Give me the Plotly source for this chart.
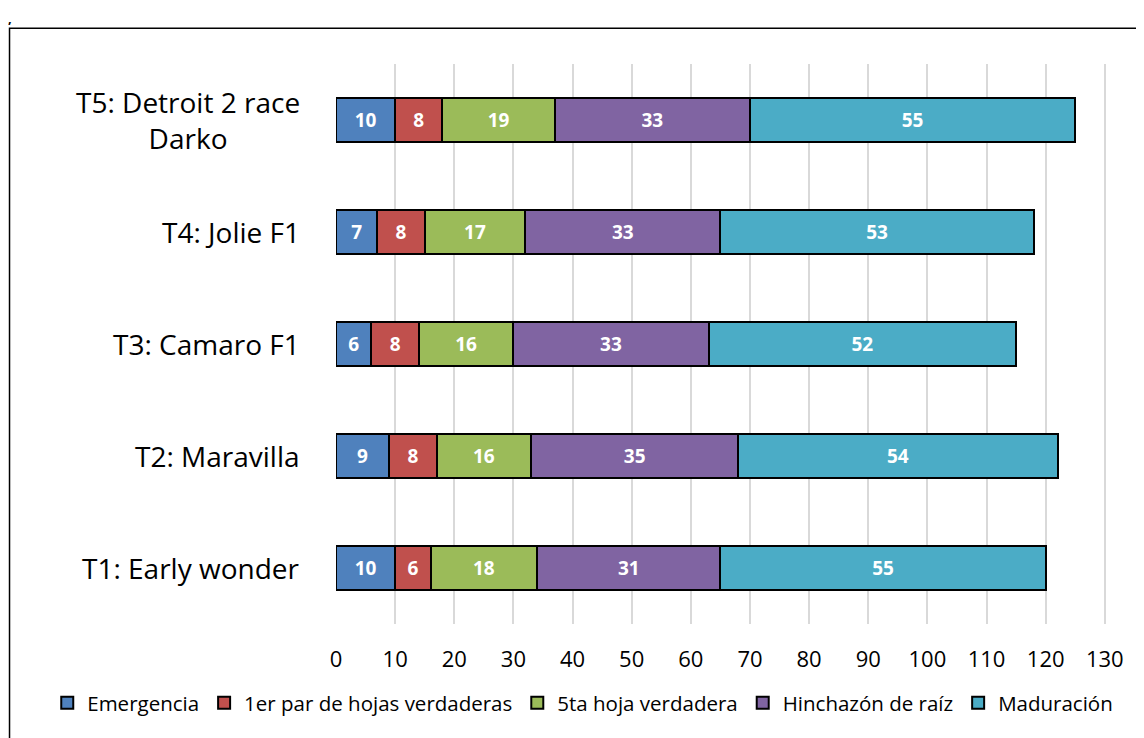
import plotly.graph_objects as go

categories = ["T1: Early wonder", "T2: Maravilla", "T3: Camaro F1", "T4: Jolie F1", "T5: Detroit 2 race<br>Darko"]
series_names = ["Emergencia", "1er par de hojas verdaderas", "5ta hoja verdadera", "Hinchazón de raíz", "Maduración"]
emergencia = [10, 9, 6, 7, 10]
primer_par = [6, 8, 8, 8, 8]
quinta_hoja = [18, 16, 16, 17, 19]
hinchazon = [31, 35, 33, 33, 33]
maduracion = [55, 54, 52, 53, 55]
colors = ["#4F81BD", "#C0504D", "#9BBB59", "#8064A2", "#4BACC6"]
x_ticks = list(range(0, 131, 10))

FONT = "Open Sans"
series = [emergencia, primer_par, quinta_hoja, hinchazon, maduracion]
fig = go.Figure()
for name, vals, col in zip(series_names, series, colors):
    fig.add_trace(go.Bar(
        y=categories, x=vals, name=name, orientation="h",
        marker=dict(color=col, line=dict(color="black", width=2)),
        text=vals, textposition="inside", insidetextanchor="middle",
        textfont=dict(color="white", size=19, family=FONT),
        texttemplate="<b>%{text}</b>", width=0.39,
    ))

L, T, PW, PH = 328, 56, 770, 560
fig.update_layout(
    barmode="stack",
    width=1144, height=738,
    margin=dict(l=L, r=1144 - L - PW, t=T, b=738 - T - PH, autoexpand=False),
    paper_bgcolor="white", plot_bgcolor="white",
    font=dict(family=FONT, color="black"),
    xaxis=dict(range=[0, 130.2], tickvals=x_ticks, showgrid=True, gridcolor="#D9D9D9",
               gridwidth=1.5, zeroline=False, tickfont=dict(size=22), ticks="",
               showline=False, ticklabelstandoff=20),
    yaxis=dict(categoryorder="array", categoryarray=categories, showticklabels=False,
               showgrid=False, zeroline=False, range=[-0.5, 4.5]),
    legend=dict(orientation="h", x=-0.375, xanchor="left", y=-0.105, yanchor="top",
                font=dict(size=20.5), traceorder="normal", itemwidth=30,
                tracegroupgap=0),
    uniformtext=dict(minsize=10, mode="show"),
    showlegend=True,
)

for c in categories:
    fig.add_annotation(x=-0.044, xref="paper", y=c, yref="y", text=c, showarrow=False,
                       xanchor="right", align="center", font=dict(size=28))

fig.add_shape(type="rect", xref="paper", yref="paper", x0=-0.424, x1=1.2, y0=-0.4, y1=1.064,
              line=dict(color="black", width=1.5), layer="below")
fig.add_annotation(x=-0.4275, xref="paper", y=1.0995, yref="paper", yanchor="top",
                   text="<b>,</b>", showarrow=False, font=dict(size=13), borderpad=0)

fig.write_html("out.html")
